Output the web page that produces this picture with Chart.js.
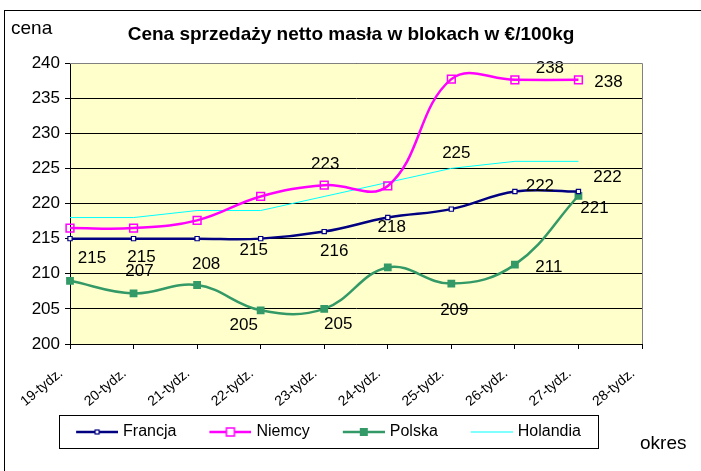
<!DOCTYPE html>
<html>
<head>
<meta charset="utf-8">
<script src="https://cdn.jsdelivr.net/npm/chart.js@4.4.1/dist/chart.umd.min.js"></script>
<style>
  html, body { margin: 0; padding: 0; background: #fff; }
  canvas { display: block; }
</style>
</head>
<body>
<canvas id="chart" width="701" height="471"></canvas>
<script>
const weeks = ['19-tydz.', '20-tydz.', '21-tydz.', '22-tydz.', '23-tydz.', '24-tydz.', '25-tydz.', '26-tydz.', '27-tydz.', '28-tydz.'];
const yTicks = [200, 205, 210, 215, 220, 225, 230, 235, 240];

const francja = [215, 215, 215, 215, 216, 218, 219.2, 221.7, 221.7];
const niemcy = [216.5, 216.5, 217.6, 221, 222.6, 222.5, 237.7, 237.6, 237.6];
const polska = [209, 207.2, 208.4, 204.8, 205, 210.9, 208.6, 211.3, 221.1];
const holandia = [218, 218, 219, 219, 221, 223, 225, 226, 226];

// which points get a value label, and where the text sits relative to the point
const labelOffsets = [
  { 0: [22, 20], 1: [8, 19], 3: [-7, 12], 4: [10, 20], 5: [4, 10], 7: [25, -5], 8: [29, -14] },
  { 4: [1, -21], 7: [35, -12], 8: [30, 2] },
  { 1: [6, -22], 2: [9, -21], 3: [-17, 15], 4: [14, 15], 6: [3, 27], 7: [34, 3], 8: [16, 13] },
  { 6: [5, -15] }
];

Chart.defaults.font.family = "'Liberation Sans', Arial, sans-serif";
Chart.defaults.color = '#000';

// legend symbol: line with marker, drawn in right part of a wider image
// so the legend gets extra room before each entry
function legendSymbol(color, lineWidth, marker) {
  const c = document.createElement('canvas');
  c.width = 60; c.height = 12;
  const g = c.getContext('2d');
  const x0 = 18, mid = 39;
  g.strokeStyle = color;
  g.lineWidth = lineWidth;
  g.beginPath(); g.moveTo(x0, 6); g.lineTo(60, 6); g.stroke();
  if (marker === 'small') {
    g.fillStyle = '#fff'; g.lineWidth = 1.2;
    g.fillRect(mid - 2, 4, 4, 4); g.strokeRect(mid - 2, 4, 4, 4);
  } else if (marker === 'hollow') {
    g.fillStyle = '#fff'; g.lineWidth = 1.5;
    g.fillRect(mid - 4, 2, 8, 8); g.strokeRect(mid - 4, 2, 8, 8);
  } else if (marker === 'filled') {
    g.fillStyle = color;
    g.fillRect(mid - 4, 2, 8, 8);
  }
  return c;
}
const symbols = [
  legendSymbol('#000080', 2.5, 'small'),
  legendSymbol('#FF00FF', 2.5, 'hollow'),
  legendSymbol('#339966', 2.5, 'filled'),
  legendSymbol('#00FFFF', 1, null)
];

const decor = {
  id: 'decor',
  beforeDraw(chart) {
    const { ctx, chartArea: a } = chart;
    ctx.save();
    ctx.fillStyle = '#FFFFCC';
    ctx.fillRect(a.left, a.top, a.right - a.left, a.bottom - a.top);
    ctx.restore();
  },
  afterDatasetsDraw(chart) {
    const { ctx } = chart;
    ctx.save();
    ctx.font = "17px 'Liberation Sans', Arial, sans-serif";
    ctx.fillStyle = '#000';
    ctx.textAlign = 'center';
    ctx.textBaseline = 'middle';
    chart.data.datasets.forEach((ds, di) => {
      const meta = chart.getDatasetMeta(di);
      const offs = labelOffsets[di];
      Object.keys(offs).forEach(k => {
        const pt = meta.data[k];
        const v = ds.data[k];
        ctx.fillText(String(Math.round(v)), pt.x + offs[k][0], pt.y + offs[k][1]);
      });
    });
    ctx.restore();
  },
  afterDraw(chart) {
    const { ctx, chartArea: a } = chart;
    ctx.save();
    // plot border
    ctx.strokeStyle = '#808080';
    ctx.lineWidth = 1;
    ctx.beginPath();
    ctx.moveTo(a.left, a.top + 0.5); ctx.lineTo(a.right + 0.5, a.top + 0.5); ctx.lineTo(a.right + 0.5, a.bottom);
    ctx.stroke();
    // outer frame
    ctx.strokeStyle = '#000';
    ctx.strokeRect(4.5, 10.5, 720, 480);
    // legend box
    const hb = chart.legend.legendHitBoxes;
    const last = hb[hb.length - 1];
    const cy = hb[0].top + hb[0].height / 2;
    const bl = Math.round(hb[0].left + 15 - 17);
    const br = Math.round(last.left + last.width + 17);
    ctx.strokeRect(bl + 0.5, Math.round(cy - 17) + 0.5, br - bl, 33);
    // texts
    ctx.fillStyle = '#000';
    ctx.textBaseline = 'middle';
    ctx.textAlign = 'left';
    ctx.font = "19px 'Liberation Sans', Arial, sans-serif";
    ctx.fillText('cena', 11, 29);
    ctx.fillText('okres', 640, 444);
    ctx.textAlign = 'center';
    ctx.font = "bold 19px 'Liberation Sans', Arial, sans-serif";
    ctx.fillText('Cena sprzedaży netto masła w blokach w €/100kg', 351, 35);
    ctx.restore();
  }
};

new Chart(document.getElementById('chart'), {
  type: 'line',
  data: {
    labels: weeks,
    datasets: [
      {
        label: 'Francja', data: francja,
        borderColor: '#000080', borderWidth: 2.5, tension: 0.4,
        pointStyle: 'rect', pointRadius: 3, pointBorderWidth: 1.2,
        pointBackgroundColor: '#fff', pointBorderColor: '#000080'
      },
      {
        label: 'Niemcy', data: niemcy,
        borderColor: '#FF00FF', borderWidth: 2.5, tension: 0.4,
        pointStyle: 'rect', pointRadius: 5.5, pointBorderWidth: 1.5,
        pointBackgroundColor: 'rgba(0,0,0,0)', pointBorderColor: '#FF00FF'
      },
      {
        label: 'Polska', data: polska,
        borderColor: '#339966', borderWidth: 2.5, tension: 0.4,
        pointStyle: 'rect', pointRadius: 5.5, pointBorderWidth: 0,
        pointBackgroundColor: '#339966', pointBorderColor: '#339966'
      },
      {
        label: 'Holandia', data: holandia,
        borderColor: '#00FFFF', borderWidth: 1, tension: 0,
        pointRadius: 0
      }
    ]
  },
  options: {
    responsive: false,
    animation: false,
    devicePixelRatio: 1,
    layout: { padding: { left: 0, right: 59, top: 63, bottom: 21 } },
    plugins: {
      title: { display: false },
      tooltip: { enabled: false },
      legend: {
        position: 'bottom',
        labels: {
          usePointStyle: true,
          pointStyleWidth: 54,
          padding: 18,
          color: '#000',
          font: { size: 16 },
          generateLabels(chart) {
            const items = Chart.defaults.plugins.legend.labels.generateLabels(chart);
            items.forEach((it, i) => { it.pointStyle = symbols[i]; });
            return items;
          }
        }
      }
    },
    scales: {
      x: {
        offset: false,
        afterFit(scale) { scale.height = 62; },
        grid: { drawOnChartArea: false, drawTicks: true, tickLength: 5, color: '#000' },
        border: { color: '#000', width: 1 },
        ticks: { minRotation: 40, maxRotation: 40, autoSkip: false, padding: 16, labelOffset: -9, font: { size: 14 }, color: '#000' }
      },
      y: {
        min: 200, max: 240,
        afterBuildTicks(scale) { scale.ticks = yTicks.map(v => ({ value: v })); },
        afterFit(scale) { scale.width = 70; },
        grid: { color: '#000', lineWidth: 1, tickLength: 5 },
        border: { color: '#000', width: 1 },
        ticks: { padding: 5, font: { size: 17 }, color: '#000' }
      }
    }
  },
  plugins: [decor]
});
</script>
</body>
</html>
